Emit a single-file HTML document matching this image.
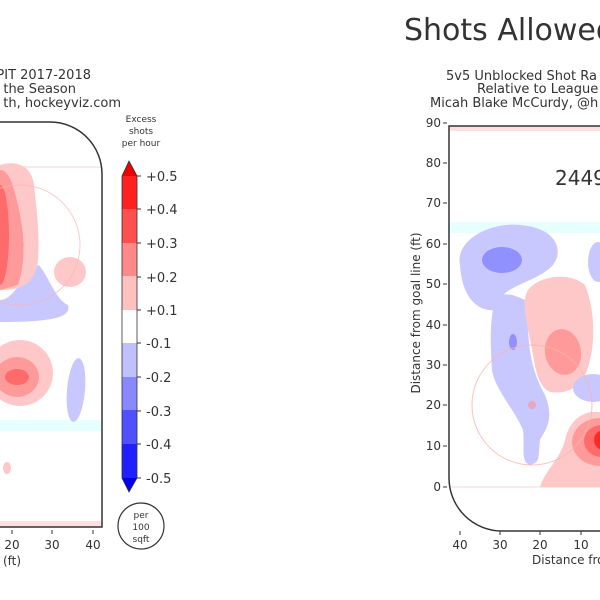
<!DOCTYPE html>
<html><head><meta charset="utf-8"><style>
html,body{margin:0;padding:0;background:#fff;}
svg{display:block;}
text{font-family:"DejaVu Sans","Liberation Sans",sans-serif;fill:#333;}
</style></head><body>
<svg width="600" height="600" viewBox="0 0 600 600" xmlns="http://www.w3.org/2000/svg">
<defs>
<clipPath id="cl"><path d="M0,122 H50 A52,52 0 0 1 102,174 V527 H0 Z"/></clipPath>
<clipPath id="cr"><path d="M449,126 H600 V531 H502 A53,53 0 0 1 449,478 Z"/></clipPath>
</defs>
<text x="404" y="40" font-size="30" style="font-family:'DejaVu Sans',sans-serif">Shots Allowed</text>

<text x="91" y="79" font-size="13" text-anchor="end">PIT 2017-2018</text>
<text x="76" y="93" font-size="13" text-anchor="end">the Season</text>
<text x="121" y="107" font-size="13" text-anchor="end">th, hockeyviz.com</text>

<g clip-path="url(#cl)">
<rect x="0" y="120" width="105" height="410" fill="#fff"/>
<line x1="0" y1="167" x2="102" y2="167" stroke="#ffd0d0" stroke-width="1"/>
<rect x="0" y="420" width="102" height="11" fill="#e6ffff"/>
<rect x="0" y="521" width="102" height="8" fill="#ffe0e0"/>
<path d="M0,300 C15,300 25,270 38,265 C45,268 55,300 68,305 C72,318 50,322 0,322 Z" fill="#c8c8ff"/>
<path d="M0,165 C15,160 32,165 34,185 C36,205 40,230 38,260 C35,285 20,290 0,290 Z" fill="#ffc8c8"/>
<path d="M0,170 C10,170 15,190 20,215 C25,240 25,265 18,285 L0,290 Z" fill="#ff9a9a"/>
<ellipse cx="0" cy="235" rx="9" ry="50" fill="#ff6b6b"/>
<ellipse cx="70" cy="272" rx="16" ry="15" fill="#ffc8c8"/>
<ellipse cx="20" cy="373" rx="33" ry="33" fill="#ffc8c8"/>
<ellipse cx="17" cy="377" rx="22" ry="20" fill="#ff9a9a"/>
<ellipse cx="17" cy="377" rx="12" ry="8" fill="#ff6b6b"/>
<ellipse cx="76" cy="390" rx="9" ry="32" fill="#c8c8ff" transform="rotate(5 76 390)"/>
<ellipse cx="7" cy="468" rx="4" ry="6" fill="#ffc8c8"/>
<circle cx="20" cy="245" r="60" fill="none" stroke="#ffb0b0" stroke-width="1" opacity="0.7"/>
<circle cx="20" cy="245" r="4" fill="#ff9a9a" opacity="0.6"/>
</g>
<path d="M0,122 H50 A52,52 0 0 1 102,174 V527 H0" fill="none" stroke="#333" stroke-width="1.5"/>
<g font-size="12">
<line x1="12" y1="530" x2="12" y2="534" stroke="#333"/><line x1="52" y1="530" x2="52" y2="534" stroke="#333"/><line x1="93" y1="530" x2="93" y2="534" stroke="#333"/>
<text x="12" y="549" text-anchor="middle">20</text>
<text x="52" y="549" text-anchor="middle">30</text>
<text x="93" y="549" text-anchor="middle">40</text>
<text x="12" y="565" text-anchor="middle">(ft)</text>
</g>

<text x="141" y="122" font-size="9" text-anchor="middle">Excess</text>
<text x="141" y="134" font-size="9" text-anchor="middle">shots</text>
<text x="141" y="146" font-size="9" text-anchor="middle">per hour</text>
<polygon points="122,176 129,161 137,176" fill="#ee0000"/>
<rect x="122" y="176" width="15" height="34" fill="#ff2020"/>
<rect x="122" y="209" width="15" height="34" fill="#ff5050"/>
<rect x="122" y="243" width="15" height="34" fill="#ff8888"/>
<rect x="122" y="276" width="15" height="34" fill="#ffc0c0"/>
<rect x="122" y="310" width="15" height="34" fill="#ffffff"/>
<rect x="122" y="343" width="15" height="34" fill="#c0c0ff"/>
<rect x="122" y="377" width="15" height="34" fill="#8888ff"/>
<rect x="122" y="410" width="15" height="34" fill="#5050ff"/>
<rect x="122" y="444" width="15" height="34" fill="#2020ff"/>
<polygon points="122,478 129,492 137,478" fill="#0000ee"/>
<path d="M122,176 L129,161 L137,176 V478 L129,492 L122,478 Z" fill="none" stroke="#333" stroke-width="0.8"/>
<g font-size="13" style="font-family:'DejaVu Sans Mono',monospace">
<text x="146" y="181">+0.5</text><text x="146" y="214">+0.4</text><text x="146" y="248">+0.3</text><text x="146" y="282">+0.2</text><text x="146" y="315">+0.1</text>
<text x="146" y="348">-0.1</text><text x="146" y="382">-0.2</text><text x="146" y="416">-0.3</text><text x="146" y="449">-0.4</text><text x="146" y="483">-0.5</text>
</g>
<g stroke="#333" stroke-width="1">
<line x1="137" y1="176" x2="141" y2="176"/><line x1="137" y1="209" x2="141" y2="209"/><line x1="137" y1="243" x2="141" y2="243"/><line x1="137" y1="277" x2="141" y2="277"/><line x1="137" y1="310" x2="141" y2="310"/>
<line x1="137" y1="343" x2="141" y2="343"/><line x1="137" y1="377" x2="141" y2="377"/><line x1="137" y1="411" x2="141" y2="411"/><line x1="137" y1="444" x2="141" y2="444"/><line x1="137" y1="478" x2="141" y2="478"/>
</g>
<circle cx="141" cy="526" r="23" fill="none" stroke="#333" stroke-width="1.2"/>
<text x="141" y="518" font-size="9" text-anchor="middle">per</text>
<text x="141" y="530" font-size="9" text-anchor="middle">100</text>
<text x="141" y="542" font-size="9" text-anchor="middle">sqft</text>

<text x="446" y="80" font-size="13">5v5 Unblocked Shot Ra</text>
<text x="477" y="93" font-size="13">Relative to League</text>
<text x="430" y="107" font-size="13">Micah Blake McCurdy, @h</text>

<g clip-path="url(#cr)">
<rect x="449" y="120" width="151" height="420" fill="#fff"/>
<rect x="449" y="123" width="151" height="8" fill="#ffe0e0"/>
<rect x="449" y="222" width="151" height="11" fill="#e6ffff"/>
<line x1="449" y1="487" x2="600" y2="487" stroke="#ffd0d0" stroke-width="1"/>
<path d="M460,265 C455,240 490,222 520,225 C560,228 565,255 550,268 C530,285 500,285 495,310 C480,312 462,300 460,265 Z" fill="#c8c8ff"/>
<ellipse cx="502" cy="260" rx="20" ry="13" fill="#9090ff"/>
<path d="M495,300 C500,290 515,295 525,300 C530,330 525,360 545,395 C555,420 545,430 540,440 C538,460 540,462 530,465 C520,462 525,445 523,430 C515,410 495,390 492,370 C490,340 490,320 495,300 Z" fill="#c8c8ff"/>
<ellipse cx="513" cy="342" rx="4" ry="8" fill="#9090ff"/>
<path d="M528,290 C540,275 570,272 585,285 C595,310 595,340 590,360 C585,385 570,395 550,392 C535,385 535,360 530,340 C525,315 522,300 528,290 Z" fill="#ffc8c8"/>
<ellipse cx="563" cy="352" rx="18" ry="23" fill="#ff9a9a" transform="rotate(-10 563 352)"/>
<ellipse cx="593" cy="388" rx="20" ry="14" fill="#c8c8ff"/>
<ellipse cx="598" cy="262" rx="10" ry="20" fill="#c8c8ff"/>
<path d="M540,487 C545,470 560,460 565,440 C570,418 585,410 600,412 V487 Z" fill="#ffc8c8"/>
<ellipse cx="600" cy="442" rx="30" ry="30" fill="#ffc8c8"/>
<ellipse cx="600" cy="442" rx="28" ry="24" fill="#ff9a9a"/>
<ellipse cx="602" cy="441" rx="18" ry="16" fill="#ff6b6b"/>
<ellipse cx="604" cy="440" rx="10" ry="10" fill="#ff2828"/>
<circle cx="532" cy="405" r="60" fill="none" stroke="#ffb0b0" stroke-width="1" opacity="0.8"/>
<circle cx="532" cy="405" r="4" fill="#ff9090" opacity="0.6"/>
</g>
<path d="M600,126 H449 V478 A53,53 0 0 0 502,531 H600" fill="none" stroke="#333" stroke-width="1.5"/>
<text x="555" y="185" font-size="20" fill="#111">2449</text>
<g font-size="12" stroke="none">
<text x="441" y="127" text-anchor="end">90</text>
<text x="441" y="167" text-anchor="end">80</text>
<text x="441" y="207" text-anchor="end">70</text>
<text x="441" y="248" text-anchor="end">60</text>
<text x="441" y="288" text-anchor="end">50</text>
<text x="441" y="329" text-anchor="end">40</text>
<text x="441" y="369" text-anchor="end">30</text>
<text x="441" y="409" text-anchor="end">20</text>
<text x="441" y="450" text-anchor="end">10</text>
<text x="441" y="491" text-anchor="end">0</text>
<text x="460" y="549" text-anchor="middle">40</text>
<text x="500" y="549" text-anchor="middle">30</text>
<text x="540" y="549" text-anchor="middle">20</text>
<text x="581" y="549" text-anchor="middle">10</text>
<text x="532" y="564">Distance fro</text>
<text x="420" y="313" text-anchor="middle" transform="rotate(-90 420 313)">Distance from goal line (ft)</text>
</g>
<g stroke="#333" stroke-width="1">
<line x1="443" y1="123" x2="447" y2="123"/><line x1="443" y1="163" x2="447" y2="163"/><line x1="443" y1="203" x2="447" y2="203"/><line x1="443" y1="244" x2="447" y2="244"/><line x1="443" y1="284" x2="447" y2="284"/><line x1="443" y1="325" x2="447" y2="325"/><line x1="443" y1="365" x2="447" y2="365"/><line x1="443" y1="405" x2="447" y2="405"/><line x1="443" y1="446" x2="447" y2="446"/><line x1="443" y1="487" x2="447" y2="487"/>
<line x1="460" y1="531" x2="460" y2="535"/><line x1="500" y1="531" x2="500" y2="535"/><line x1="540" y1="531" x2="540" y2="535"/><line x1="581" y1="531" x2="581" y2="535"/>
</g>
</svg>
</body></html>
